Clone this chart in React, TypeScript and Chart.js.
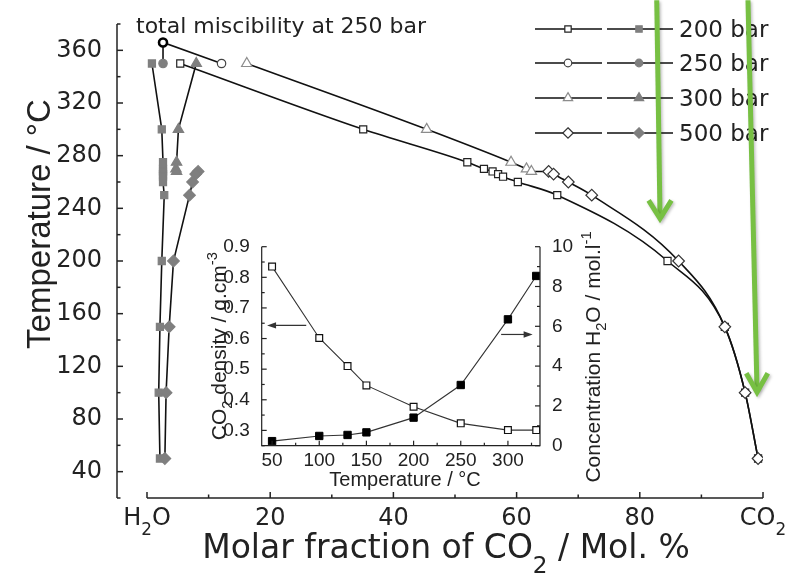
import React, { useEffect, useRef } from 'react';
import { Chart, registerables } from 'chart.js';

Chart.register(...registerables);

// ---------- Main phase diagram (x: mol % CO2, y: temperature °C) ----------
const temps200 = [350, 300, 275, 270, 268, 266, 264, 260, 250, 200, 150, 100, 50];
const co2Rich200 = [5.4, 35.1, 52.0, 54.7, 56.1, 57.0, 57.8, 60.2, 66.6, 84.5, 93.8, 97.1, 99.2];
const h2oRich200 = [0.8, 2.4, 2.6, 2.6, 2.6, 2.6, 2.6, 2.6, 2.8, 2.4, 2.1, 1.9, 2.1];

const temps250 = [350];
const co2Rich250 = [12.1];
const h2oRich250 = [2.6];
const criticalX250 = [2.6];
const criticalT250 = [366];

const temps300 = [350, 300, 275, 270, 268];
const co2Rich300 = [16.2, 45.4, 59.1, 61.6, 62.4];
const h2oRich300 = [8.0, 5.1, 4.8, 4.7, 4.8];

const temps500 = [268, 266, 260, 250, 200, 150, 100, 50];
const co2Rich500 = [65.2, 66.0, 68.4, 72.2, 86.3, 93.8, 97.1, 99.2];
const h2oRich500 = [8.3, 7.9, 7.4, 6.9, 4.3, 3.6, 3.1, 2.9];

const xTickValues = [0, 20, 40, 60, 80, 100];
const xMinorTicks = [10, 30, 50, 70, 90];
const yTickValues = [40, 80, 120, 160, 200, 240, 280, 320, 360];
const yMinorTicks = [20, 60, 100, 140, 180, 220, 260, 300, 340, 380];
const legendLabels = ['200 bar', '250 bar', '300 bar', '500 bar'];
const annotationText = 'total miscibility at 250 bar';

// green annotation arrows (data units of the main chart)
const arrowTopT = 398;
const greenArrowShaftTopX = [82.75, 97.56];
const greenArrowTipX = [83.28, 99.03];
const greenArrowTipT = [232.3, 100.3];
const greenArrowArmT = [246, 114.7];
const greenArrowArmDx = [1.85, 1.75];

// ---------- Inset (x: temperature °C) ----------
const insetTemps = [50, 100, 130, 150, 200, 250, 300, 330];
const co2Density = [0.835, 0.602, 0.51, 0.447, 0.377, 0.323, 0.301, 0.301];
const h2oConcentration = [0.23, 0.49, 0.54, 0.67, 1.41, 3.05, 6.35, 8.53];
const insetXTicks = [50, 100, 150, 200, 250, 300];
const insetXMinor = [75, 125, 175, 225, 275, 325];
const insetLeftTicks = [0.3, 0.4, 0.5, 0.6, 0.7, 0.8, 0.9];
const insetLeftMinor = [0.25, 0.35, 0.45, 0.55, 0.65, 0.75, 0.85];
const insetRightTicks = [0, 2, 4, 6, 8, 10];
const insetRightMinor = [1, 3, 5, 7, 9];
const insetLeftArrow = { from: 86.2, to: 44.7, value: 0.643 };
const insetRightArrow = { from: 292.8, to: 326.2, value: 5.59 };

const MAIN_FONT = '"DejaVu Sans", sans-serif';
const ARIAL = '"Liberation Sans", Arial, sans-serif';
const INK = '#222';
const GRAY = '#7f7f7f';

type Seg = { t: string; k?: 'sub' | 'sup' };

function drawRich(
  ctx: CanvasRenderingContext2D,
  segs: Seg[],
  cx: number,
  cy: number,
  size: number,
  family: string,
  opts: { rot?: number; subDy?: number; supDy?: number; scale?: number; align?: 'center' | 'left' } = {}
) {
  const rot = opts.rot ?? 0;
  const sc = opts.scale ?? 0.7;
  const subDy = (opts.subDy ?? 0.3) * size;
  const supDy = (opts.supDy ?? -0.42) * size;
  ctx.save();
  ctx.translate(cx, cy);
  ctx.rotate(rot);
  ctx.fillStyle = INK;
  ctx.textAlign = 'left';
  ctx.textBaseline = 'alphabetic';
  const fontFor = (s: Seg) => `${s.k ? size * sc : size}px ${family}`;
  const widths = segs.map((s) => {
    ctx.font = fontFor(s);
    return ctx.measureText(s.t).width;
  });
  const total = widths.reduce((a, b) => a + b, 0);
  let x = opts.align === 'left' ? 0 : -total / 2;
  const base = size * 0.36;
  segs.forEach((s, i) => {
    ctx.font = fontFor(s);
    const dy = s.k === 'sub' ? subDy : s.k === 'sup' ? supDy : 0;
    ctx.fillText(s.t, x, base + dy);
    x += widths[i];
  });
  ctx.restore();
}

function drawMarker(
  ctx: CanvasRenderingContext2D,
  style: string,
  x: number,
  y: number,
  r: number,
  fill: string,
  stroke: string,
  lw: number
) {
  ctx.save();
  ctx.beginPath();
  if (style === 'rect') {
    const s = r * Math.SQRT1_2;
    ctx.rect(x - s, y - s, 2 * s, 2 * s);
  } else if (style === 'circle') {
    ctx.arc(x, y, r, 0, Math.PI * 2);
  } else if (style === 'triangle') {
    ctx.moveTo(x, y - r);
    ctx.lineTo(x + 0.866 * r, y + 0.5 * r);
    ctx.lineTo(x - 0.866 * r, y + 0.5 * r);
    ctx.closePath();
  } else {
    ctx.moveTo(x, y - r);
    ctx.lineTo(x + r, y);
    ctx.lineTo(x, y + r);
    ctx.lineTo(x - r, y);
    ctx.closePath();
  }
  ctx.fillStyle = fill;
  ctx.fill();
  ctx.lineWidth = lw;
  ctx.strokeStyle = stroke;
  ctx.stroke();
  ctx.restore();
}

const pts = (xs: number[], ys: number[]) => xs.map((x, i) => ({ x, y: ys[i] }));

const markerStyles = ['rect', 'circle', 'triangle', 'rectRot'];
const markerRadii = [5, 4.2, 6, 5.8];
const openStroke = ['#222', '#444', '#8c8c8c', '#333'];

function markerSet(data: { x: number; y: number }[], idx: number, filled: boolean) {
  return {
    data,
    showLine: false,
    pointStyle: markerStyles[idx],
    pointRadius: markerRadii[idx],
    pointHoverRadius: markerRadii[idx],
    pointBackgroundColor: filled ? GRAY : '#fff',
    pointBorderColor: filled ? GRAY : openStroke[idx],
    pointBorderWidth: 1.2,
  };
}

function lineSet(data: { x: number; y: number }[], smooth: boolean) {
  return {
    data,
    showLine: true,
    pointRadius: 0,
    pointHoverRadius: 0,
    borderColor: '#111',
    borderWidth: 1.6,
    backgroundColor: 'transparent',
    cubicInterpolationMode: smooth ? 'monotone' : 'default',
    tension: 0,
  };
}

const mainPlugin = {
  id: 'mainDecor',
  afterDraw(chart: any) {
    const { ctx, chartArea } = chart;
    const xs = chart.scales.x;
    const ys = chart.scales.y;
    ctx.save();
    // axes
    ctx.strokeStyle = INK;
    ctx.lineWidth = 1.5;
    const ax = chartArea.left;
    const yb = ys.getPixelForValue(ys.min);
    ctx.beginPath();
    ctx.moveTo(ax, ys.getPixelForValue(ys.max));
    ctx.lineTo(ax, yb);
    ctx.stroke();
    yTickValues.forEach((v) => {
      const p = ys.getPixelForValue(v);
      ctx.beginPath();
      ctx.moveTo(ax, p);
      ctx.lineTo(ax + 6, p);
      ctx.stroke();
    });
    yMinorTicks.forEach((v) => {
      const p = ys.getPixelForValue(v);
      ctx.beginPath();
      ctx.moveTo(ax, p);
      ctx.lineTo(ax + 3.5, p);
      ctx.stroke();
    });
    const ay = chartArea.bottom;
    ctx.beginPath();
    ctx.moveTo(xs.getPixelForValue(xTickValues[0]), ay);
    ctx.lineTo(xs.getPixelForValue(xTickValues[xTickValues.length - 1]), ay);
    ctx.stroke();
    xTickValues.forEach((v) => {
      const p = xs.getPixelForValue(v);
      ctx.beginPath();
      ctx.moveTo(p, ay);
      ctx.lineTo(p, ay - 6);
      ctx.stroke();
    });
    xMinorTicks.forEach((v) => {
      const p = xs.getPixelForValue(v);
      ctx.beginPath();
      ctx.moveTo(p, ay);
      ctx.lineTo(p, ay - 3.5);
      ctx.stroke();
    });

    // x tick labels (with subscripts for the end members)
    xTickValues.forEach((v, i) => {
      const p = xs.getPixelForValue(v);
      let segs: Seg[] = [{ t: String(v) }];
      if (i === 0) segs = [{ t: 'H' }, { t: '2', k: 'sub' }, { t: 'O' }];
      if (i === xTickValues.length - 1) segs = [{ t: 'CO' }, { t: '2', k: 'sub' }];
      drawRich(ctx, segs, p, ay + 18, 24, MAIN_FONT, { subDy: 0.45 });
    });

    // axis titles
    drawRich(
      ctx,
      [{ t: 'Molar fraction of CO' }, { t: '2', k: 'sub' }, { t: ' / Mol. %' }],
      446,
      546,
      33,
      MAIN_FONT,
      { subDy: 0.45 }
    );
    drawRich(ctx, [{ t: 'Temperature / °C' }], 38, 224, 33, ARIAL, { rot: -Math.PI / 2 });

    // annotation
    ctx.fillStyle = INK;
    ctx.font = `22px ${MAIN_FONT}`;
    ctx.textAlign = 'left';
    ctx.textBaseline = 'alphabetic';
    ctx.fillText(annotationText, 136, 33);

    // legend
    const rowsY = [29, 63, 98, 133];
    legendLabels.forEach((lab, i) => {
      const y = rowsY[i];
      ctx.strokeStyle = '#111';
      ctx.lineWidth = 1.6;
      ctx.beginPath();
      ctx.moveTo(535, y);
      ctx.lineTo(602, y);
      ctx.moveTo(607, y);
      ctx.lineTo(673, y);
      ctx.stroke();
      const r = markerRadii[i] * 0.9;
      drawMarker(ctx, markerStyles[i], 568, y, r, '#fff', openStroke[i], 1.2);
      drawMarker(ctx, markerStyles[i], 639, y, r, GRAY, GRAY, 1.2);
      ctx.fillStyle = INK;
      ctx.font = `23px ${MAIN_FONT}`;
      ctx.fillText(lab, 679, y + 8.3);
    });

    // green arrows
    ctx.strokeStyle = '#77c043';
    ctx.lineWidth = 5;
    ctx.lineJoin = 'miter';
    ctx.lineCap = 'butt';
    ctx.shadowColor = 'rgba(0,0,0,0.25)';
    ctx.shadowBlur = 3;
    ctx.shadowOffsetX = 1.5;
    ctx.shadowOffsetY = 1.5;
    greenArrowTipX.forEach((tx, i) => {
      const x0 = xs.getPixelForValue(greenArrowShaftTopX[i]);
      const y0 = ys.getPixelForValue(arrowTopT);
      const x1 = xs.getPixelForValue(tx);
      const y1 = ys.getPixelForValue(greenArrowTipT[i]);
      ctx.beginPath();
      ctx.moveTo(x0, y0);
      ctx.lineTo(x1, y1 - 2);
      ctx.stroke();
      const ya = ys.getPixelForValue(greenArrowArmT[i]);
      ctx.beginPath();
      ctx.moveTo(xs.getPixelForValue(tx - greenArrowArmDx[i]), ya);
      ctx.lineTo(x1, y1);
      ctx.lineTo(xs.getPixelForValue(tx + greenArrowArmDx[i]), ya);
      ctx.stroke();
    });
    ctx.restore();
  },
};

function arrowHead(ctx: CanvasRenderingContext2D, x: number, y: number, dir: number) {
  ctx.beginPath();
  ctx.moveTo(x, y);
  ctx.lineTo(x - dir * 9, y - 3.2);
  ctx.lineTo(x - dir * 9, y + 3.2);
  ctx.closePath();
  ctx.fill();
}

const insetPlugin = {
  id: 'insetDecor',
  afterDraw(chart: any) {
    const { ctx, chartArea } = chart;
    const xs = chart.scales.x;
    const yl = chart.scales.y;
    const yr = chart.scales.y1;
    const { left, right, top, bottom } = chartArea;
    ctx.save();
    ctx.strokeStyle = INK;
    ctx.fillStyle = '#333';
    ctx.lineWidth = 1.2;
    ctx.beginPath();
    ctx.moveTo(left, top);
    ctx.lineTo(left, bottom);
    ctx.lineTo(right, bottom);
    ctx.lineTo(right, top);
    ctx.stroke();
    const tick = (x1: number, y1: number, x2: number, y2: number) => {
      ctx.beginPath();
      ctx.moveTo(x1, y1);
      ctx.lineTo(x2, y2);
      ctx.stroke();
    };
    insetLeftTicks.forEach((v) => {
      const p = yl.getPixelForValue(v);
      tick(left, p, left + 5, p);
    });
    insetLeftMinor.forEach((v) => {
      const p = yl.getPixelForValue(v);
      tick(left, p, left + 3, p);
    });
    insetRightTicks.forEach((v) => {
      const p = yr.getPixelForValue(v);
      tick(right, p, right - 5, p);
    });
    insetRightMinor.forEach((v) => {
      const p = yr.getPixelForValue(v);
      tick(right, p, right - 3, p);
    });
    insetXTicks.forEach((v) => {
      const p = xs.getPixelForValue(v);
      tick(p, bottom, p, bottom - 5);
    });
    insetXMinor.forEach((v) => {
      const p = xs.getPixelForValue(v);
      tick(p, bottom, p, bottom - 3);
    });

    // arrows pointing to the axes
    ctx.strokeStyle = '#333';
    const la = yl.getPixelForValue(insetLeftArrow.value);
    const lf = xs.getPixelForValue(insetLeftArrow.from);
    const lt = xs.getPixelForValue(insetLeftArrow.to);
    tick(lf, la, lt + 6, la);
    arrowHead(ctx, lt, la, -1);
    const ra = yr.getPixelForValue(insetRightArrow.value);
    const rf = xs.getPixelForValue(insetRightArrow.from);
    const rt = xs.getPixelForValue(insetRightArrow.to);
    tick(rf, ra, rt - 6, ra);
    arrowHead(ctx, rt, ra, 1);

    // titles
    drawRich(
      ctx,
      [{ t: 'CO' }, { t: '2', k: 'sub' }, { t: ' density / g.cm' }, { t: '-3', k: 'sup' }],
      23,
      (top + bottom) / 2,
      21,
      ARIAL,
      { rot: -Math.PI / 2 }
    );
    drawRich(
      ctx,
      [{ t: 'Concentration H' }, { t: '2', k: 'sub' }, { t: 'O / mol.l' }, { t: '-1', k: 'sup' }],
      397,
      132,
      21,
      ARIAL,
      { rot: -Math.PI / 2 }
    );
    drawRich(ctx, [{ t: 'Temperature / °C' }], 210, 254, 20, ARIAL);
    ctx.restore();
  },
};

export default function App() {
  const mainRef = useRef<HTMLCanvasElement>(null);
  const insetRef = useRef<HTMLCanvasElement>(null);

  useEffect(() => {
    const co2Lower = pts(co2Rich200, temps200);
    const co2Upper = pts(co2Rich300, temps300).concat(pts(co2Rich500, temps500));
    const line250 = pts(h2oRich250, temps250)
      .concat(pts(criticalX250, criticalT250))
      .concat(pts(co2Rich250, temps250));

    const main = new Chart(mainRef.current as HTMLCanvasElement, {
      type: 'scatter',
      data: {
        datasets: [
          {
            data: pts(criticalX250, criticalT250),
            showLine: false,
            pointStyle: 'circle',
            pointRadius: 4,
            pointHoverRadius: 4,
            pointBackgroundColor: '#fff',
            pointBorderColor: '#000',
            pointBorderWidth: 2.6,
          },
          markerSet(pts(co2Rich500, temps500), 3, false),
          markerSet(pts(co2Rich300, temps300), 2, false),
          markerSet(pts(co2Rich250, temps250), 1, false),
          markerSet(pts(co2Rich200, temps200), 0, false),
          markerSet(pts(h2oRich500, temps500), 3, true),
          markerSet(pts(h2oRich300, temps300), 2, true),
          markerSet(pts(h2oRich250, temps250), 1, true),
          markerSet(pts(h2oRich200, temps200), 0, true),
          lineSet(co2Lower, true),
          lineSet(co2Upper, true),
          lineSet(line250, false),
          lineSet(pts(h2oRich200, temps200), false),
          lineSet(pts(h2oRich300, temps300), false),
          lineSet(pts(h2oRich500, temps500), false),
        ] as any,
      },
      options: {
        responsive: false,
        animation: false,
        layout: { padding: { top: 24, right: 35, left: 0, bottom: 0 } },
        plugins: { legend: { display: false }, tooltip: { enabled: false } },
        scales: {
          x: {
            type: 'linear',
            min: -4.87,
            max: 100,
            grid: { display: false },
            border: { display: false },
            ticks: { display: false },
            afterFit: (s: any) => {
              s.height = 79;
            },
          },
          y: {
            type: 'linear',
            min: 20,
            max: 380,
            grid: { display: false },
            border: { display: false },
            afterBuildTicks: (s: any) => {
              s.ticks = yTickValues.map((v) => ({ value: v }));
            },
            ticks: {
              padding: 7,
              color: INK,
              font: { family: MAIN_FONT, size: 24 },
              callback: (v: any) => String(v),
            },
            afterFit: (s: any) => {
              s.width = 117;
            },
          },
        },
      } as any,
      plugins: [mainPlugin],
    });

    const inset = new Chart(insetRef.current as HTMLCanvasElement, {
      type: 'scatter',
      data: {
        datasets: [
          {
            data: pts(insetTemps, co2Density),
            yAxisID: 'y',
            showLine: true,
            borderColor: '#333',
            borderWidth: 1.1,
            pointStyle: 'rect',
            pointRadius: 4.8,
            pointHoverRadius: 4.8,
            pointBackgroundColor: '#fff',
            pointBorderColor: '#111',
            pointBorderWidth: 1.2,
            tension: 0,
          },
          {
            data: pts(insetTemps, h2oConcentration),
            yAxisID: 'y1',
            showLine: true,
            borderColor: '#333',
            borderWidth: 1.1,
            pointStyle: 'rect',
            pointRadius: 5.2,
            pointHoverRadius: 5.2,
            pointBackgroundColor: '#000',
            pointBorderColor: '#000',
            pointBorderWidth: 1,
            tension: 0,
          },
        ] as any,
      },
      options: {
        responsive: false,
        animation: false,
        layout: { padding: { top: 21.7, left: 0, right: 0, bottom: 0 } },
        plugins: { legend: { display: false }, tooltip: { enabled: false } },
        scales: {
          x: {
            type: 'linear',
            min: 39,
            max: 334,
            grid: { display: false },
            border: { display: false },
            afterBuildTicks: (s: any) => {
              s.ticks = insetXTicks.map((v) => ({ value: v }));
            },
            ticks: {
              padding: -4,
              color: INK,
              maxRotation: 0,
              font: { family: ARIAL, size: 19 },
              callback: (v: any) => String(v),
            },
            afterFit: (s: any) => {
              s.height = 51.3;
            },
          },
          y: {
            type: 'linear',
            position: 'left',
            min: 0.25,
            max: 0.9,
            grid: { display: false },
            border: { display: false },
            afterBuildTicks: (s: any) => {
              s.ticks = insetLeftTicks.map((v) => ({ value: v }));
            },
            ticks: {
              padding: 4,
              color: INK,
              font: { family: ARIAL, size: 19 },
              callback: (v: any) => Number(v).toFixed(1),
            },
            afterFit: (s: any) => {
              s.width = 66.7;
            },
          },
          y1: {
            type: 'linear',
            position: 'right',
            min: 0,
            max: 10,
            grid: { display: false },
            border: { display: false },
            afterBuildTicks: (s: any) => {
              s.ticks = insetRightTicks.map((v) => ({ value: v }));
            },
            ticks: {
              padding: 4,
              color: INK,
              font: { family: ARIAL, size: 19 },
              callback: (v: any) => String(v),
            },
            afterFit: (s: any) => {
              s.width = 75;
            },
          },
        },
      } as any,
      plugins: [insetPlugin],
    });

    return () => {
      main.destroy();
      inset.destroy();
    };
  }, []);

  return (
    <div style={{ position: 'absolute', left: 0, top: 0, width: 798, height: 577, background: '#fff' }}>
      <canvas
        ref={mainRef}
        width={798}
        height={577}
        style={{ position: 'absolute', left: 0, top: 0, width: 798, height: 577 }}
      />
      <canvas
        ref={insetRef}
        width={420}
        height={272}
        style={{ position: 'absolute', left: 195, top: 225, width: 420, height: 272 }}
      />
    </div>
  );
}
